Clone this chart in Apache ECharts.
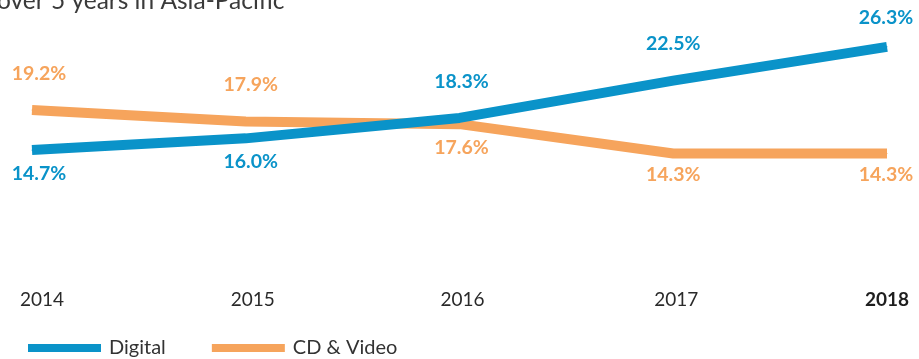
<!DOCTYPE html>
<html>
<head>
<meta charset="utf-8">
<script src="https://cdn.jsdelivr.net/npm/echarts@6/dist/echarts.min.js"></script>
<style>
  html, body { margin: 0; padding: 0; background: #ffffff; }
  #chart { width: 919px; height: 359px; }
</style>
</head>
<body>
<div id="chart"></div>
<script>
// Market share by format, Asia-Pacific
const years = ['2014', '2015', '2016', '2017', '2018'];
const digital = [14.7, 16.0, 18.3, 22.5, 26.3];
const cdVideo = [19.2, 17.9, 17.6, 14.3, 14.3];
const titleText = 'over 5 years in Asia-Pacific';

const BLUE = '#0a93c9';
const ORANGE = '#f6a45c';
const FONT = 'Lato, "Open Sans", sans-serif';

// label side and gap per point (above / below the line)
const digitalSide = ['bottom', 'bottom', 'top', 'top', 'top'];
const digitalGap = [13, 13, 26, 26, 19];
const cdSide = ['top', 'top', 'bottom', 'bottom', 'bottom'];
const cdGap = [26, 26, 13, 11, 11];
const xShift = [7, 5, 2, 0, -1];

function buildPoints(values, sides, gaps, color) {
  return values.map((v, i) => ({
    value: v,
    label: {
      show: true,
      position: sides[i],
      distance: gaps[i],
      offset: [xShift[i], 0],
      formatter: (p) => p.value.toFixed(1) + '%',
      color: color,
      fontFamily: FONT,
      fontWeight: 'bold',
      fontSize: 19.5
    }
  }));
}

// per-tick horizontal nudge of the year labels
const tickPad = [20, 14, 6, 6, 0];

const chart = echarts.init(document.getElementById('chart'), null, { renderer: 'canvas' });
chart.setOption({
  animation: false,
  backgroundColor: '#ffffff',
  graphic: [{
    type: 'text',
    left: -3,
    top: -11,
    style: { text: titleText, fill: '#3a3a3a', font: '24.5px ' + FONT }
  }],
  grid: { left: 32, right: 32, top: 14, bottom: 78.5 },
  xAxis: {
    type: 'category',
    data: years,
    boundaryGap: false,
    axisLine: { show: false },
    axisTick: { show: false },
    axisLabel: {
      margin: 10,
      fontFamily: FONT,
      fontSize: 19,
      color: '#2a2a2a',
      formatter: (v, i) => '{t' + i + '|' + v + '}',
      rich: Object.fromEntries(years.map((y, i) => ['t' + i, {
        fontFamily: FONT,
        fontSize: 19,
        color: i === years.length - 1 ? '#1e1e1e' : '#2a2a2a',
        fontWeight: i === years.length - 1 ? 'bold' : 'normal',
        padding: [0, 0, 0, tickPad[i]]
      }]))
    }
  },
  yAxis: { type: 'value', min: 0, max: 30, show: false, splitLine: { show: false } },
  legend: {
    left: 23,
    bottom: -4,
    itemWidth: 73,
    itemHeight: 8,
    itemGap: 46,
    icon: 'rect',
    textStyle: { fontFamily: FONT, fontSize: 20, color: '#333333', padding: [0, 0, 0, 3] },
    data: ['Digital', 'CD & Video']
  },
  series: [
    {
      name: 'CD & Video',
      type: 'line',
      data: buildPoints(cdVideo, cdSide, cdGap, ORANGE),
      symbol: 'circle',
      symbolSize: 1,
      showSymbol: true,
      color: ORANGE,
      itemStyle: { color: ORANGE },
      lineStyle: { width: 10, color: ORANGE, cap: 'butt', join: 'round' }
    },
    {
      name: 'Digital',
      type: 'line',
      data: buildPoints(digital, digitalSide, digitalGap, BLUE),
      symbol: 'circle',
      symbolSize: 1,
      showSymbol: true,
      color: BLUE,
      itemStyle: { color: BLUE },
      lineStyle: { width: 10, color: BLUE, cap: 'butt', join: 'round' }
    }
  ]
});
</script>
</body>
</html>
